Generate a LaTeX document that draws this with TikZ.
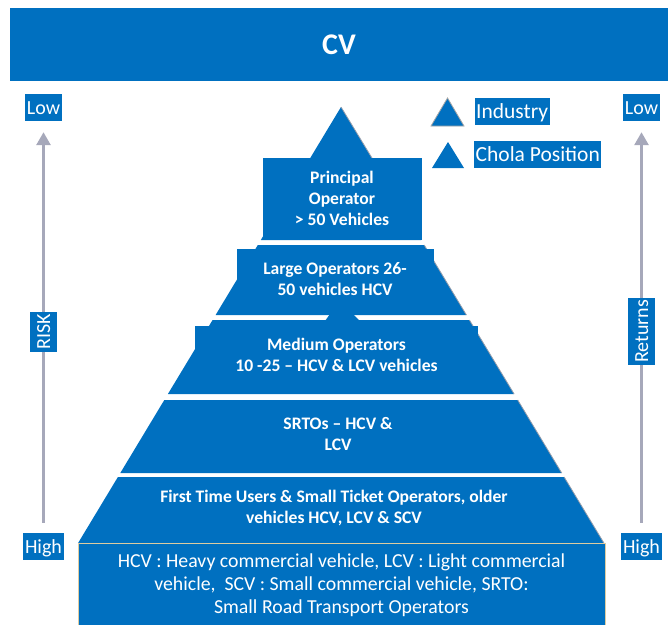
\documentclass[tikz,border=0pt]{standalone}
\usepackage{fontspec}
\setmainfont{Carlito}
\usetikzlibrary{arrows.meta}
\definecolor{cvblue}{RGB}{0,112,192}
\definecolor{axisgray}{RGB}{166,168,186}
\definecolor{notetan}{RGB}{222,204,160}
\definecolor{edgegray}{RGB}{150,158,172}

\begin{document}
\begin{tikzpicture}[x=1pt,y=-1pt,
  tier/.style={fill=cvblue},
  rim/.style={draw=edgegray, line width=0.8pt},
  tiertext/.style={text=white, font=\bfseries\fontsize{17.6}{21}\selectfont, align=center, inner sep=0pt},
  notetext/.style={text=white, font=\fontsize{19.8}{23}\selectfont, align=center, inner sep=0pt},
  tag/.style={fill=cvblue, text=white, font=\fontsize{20}{24}\selectfont,
    inner xsep=2pt, inner ysep=1pt, text height=19pt, text depth=6pt},
  keytag/.style={fill=cvblue, text=white, font=\fontsize{21.5}{26}\selectfont,
    inner xsep=1.5pt, inner ysep=0.5pt, text height=20pt, text depth=6pt, anchor=west},
  axis/.style={draw=axisgray, line width=2.8pt, -{Triangle[width=14pt,length=13pt]}}
]
\useasboundingbox (0,0) rectangle (668,624);

% title banner
\node[fill=cvblue, text=white, minimum width=658pt, minimum height=73pt, inner sep=0pt,
  font=\bfseries\fontsize{30}{36}\selectfont] (title) at (339,44.5) {CV};

% pyramid tiers, top to bottom
\fill[tier] (341,107) -- (421.2,240) -- (260.8,240) -- cycle;
\draw[rim] (341,107) -- (372,158);
\fill[tier] (263,158) rectangle (422,240);

\fill[tier] (257.8,245) -- (424.2,245) -- (466.4,315) -- (215.6,315) -- cycle;
\draw[rim] (424.2,245) -- (466.4,315);
\fill[tier] (237,249) rectangle (434,300);

\fill[tier] (330,314) -- (353,314) -- (360,321) -- (325,321) -- cycle;

\fill[tier] (212.6,320) -- (469.4,320) -- (514.1,394) -- (167.9,394) -- cycle;
\draw[rim] (469.4,320) -- (514.1,394);
\fill[tier] (195,326) rectangle (478,365);

\fill[tier] (164.3,400) -- (517.7,400) -- (561.7,473) -- (120.3,473) -- cycle;
\draw[rim] (517.7,400) -- (561.7,473);

\fill[tier] (117.9,477) -- (564.1,477) -- (603.9,543) -- (78.1,543) -- cycle;
\draw[rim] (564.1,477) -- (603.9,543);

% glossary box at the base
\fill[cvblue] (78,543) rectangle (605,625);
\draw[notetan, line width=1pt] (78,625) -- (78,543) -- (605,543) -- (605,625);

% tier labels
\node[tiertext] (t1) at (342,198) {Principal\\Operator\\> 50 Vehicles};
\node[tiertext] (t2) at (335,279) {Large Operators 26-\\50 vehicles HCV};
\node[tiertext] (t3) at (336.5,354.5) {Medium Operators\\10 -25 – HCV \& LCV vehicles};
\node[tiertext] (t4) at (338,434) {SRTOs – HCV \&\\LCV};
\node[tiertext] (t5) at (334,508.5) {First Time Users \& Small Ticket Operators, older\\vehicles HCV, LCV \& SCV};
\node[notetext] (note) at (341.5,585) {HCV : Heavy commercial vehicle, LCV : Light commercial\\vehicle, \ SCV : Small commercial vehicle, SRTO:\\Small Road Transport Operators};

% key
\filldraw[fill=cvblue, draw=gray!70, line width=0.8pt] (431,126) -- (464,126) -- (447.5,98) -- cycle;
\fill[cvblue] (432,168) -- (464,168) -- (448,142) -- cycle;
\node[keytag] (kind) at (474.5,111.5) {Industry};
\node[keytag] (kchola) at (474,154.5) {Chola Position};

% risk scale
\node[tag] (lowL) at (43.5,107.5) {Low};
\node[tag] (highL) at (43.5,546.5) {High};
\draw[axis, shorten <=10pt, shorten >=11pt] (highL.north) -- (lowL.south);
\node[tag, rotate=90] (risk) at (43.5,332) {RISK};

% returns scale
\node[tag] (lowR) at (641.5,107.5) {Low};
\node[tag] (highR) at (641.5,546.5) {High};
\draw[axis, shorten <=10pt, shorten >=11pt] (highR.north) -- (lowR.south);
\node[tag, rotate=90] (returns) at (641.5,331.5) {Returns};
\end{tikzpicture}
\end{document}
